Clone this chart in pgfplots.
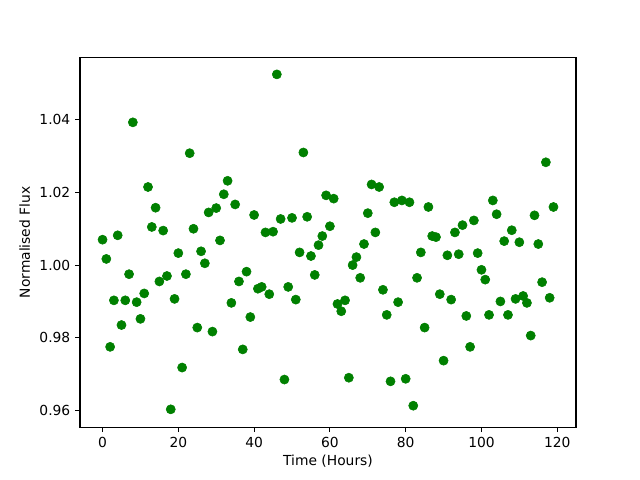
\documentclass[border=0pt]{standalone}
\usepackage{pgfplots}
\pgfplotsset{compat=1.18}
\usepackage{fontspec}
\setmainfont{DejaVu Sans}
\definecolor{mplgreen}{HTML}{008000}
\begin{document}
\begin{tikzpicture}
\path[fill=white] (0,0) rectangle (6.4in,4.8in);
\begin{axis}[
  at={(0.8in,0.528in)}, anchor=south west,
  width=4.96in, height=3.696in, scale only axis,
  xmin=-5.95, xmax=124.95, ymin=0.95538, ymax=1.05712,
  xtick={0,20,40,60,80,100,120},
  ytick={0.96,0.98,1.00,1.02,1.04},
  yticklabel style={/pgf/number format/.cd, fixed, fixed zerofill, precision=2},
  /pgf/number format/assume math mode=true,
  xtick pos=bottom, ytick pos=left,
  tick align=outside, major tick length=3.5pt,
  every tick/.style={line width=0.8pt, black},
  axis line style={line width=0.8pt},
  xticklabel style={yshift=-0.5pt},
  xlabel={Time (Hours)}, ylabel={Normalised Flux},
  xlabel style={yshift=2pt},
  ylabel style={yshift=0pt},
  font=\fontsize{10}{12}\selectfont,
  ticklabel style={font=\fontsize{10}{12}\selectfont},
]
\addplot[only marks, mark=*, mark size=3.3pt, mark options={fill=mplgreen, draw=mplgreen}] coordinates {
(0,1.0070) (1,1.0017) (2,0.9775) (3,0.9903) (4,1.0082) (5,0.9835) (6,0.9903) (7,0.9975)
(8,1.0393) (9,0.9898) (10,0.9852) (11,0.9922) (12,1.0215) (13,1.0105) (14,1.0158) (15,0.9955)
(16,1.0095) (17,0.9970) (18,0.9603) (19,0.9907) (20,1.0033) (21,0.9718) (22,0.9975) (23,1.0308)
(24,1.0100) (25,0.9828) (26,1.0038) (27,1.0005) (28,1.0145) (29,0.9817) (30,1.0157) (31,1.0068)
(32,1.0195) (33,1.0232) (34,0.9896) (35,1.0167) (36,0.9955) (37,0.9768) (38,0.9982) (39,0.9857)
(40,1.0138) (41,0.9935) (42,0.9940) (43,1.0090) (44,0.9920) (45,1.0092) (46,1.0525) (47,1.0127)
(48,0.9685) (49,0.9940) (50,1.0130) (51,0.9905) (52,1.0035) (53,1.0310) (54,1.0133) (55,1.0025)
(56,0.9973) (57,1.0055) (58,1.0080) (59,1.0192) (60,1.0107) (61,1.0183) (62,0.9893) (63,0.9873)
(64,0.9903) (65,0.9690) (66,1.0000) (67,1.0022) (68,0.9965) (69,1.0058) (70,1.0143) (71,1.0222)
(72,1.0090) (73,1.0215) (74,0.9932) (75,0.9863) (76,0.9680) (77,1.0173) (78,0.9898) (79,1.0178)
(80,0.9687) (81,1.0173) (82,0.9613) (83,0.9965) (84,1.0035) (85,0.9828) (86,1.0160) (87,1.0080)
(88,1.0077) (89,0.9920) (90,0.9737) (91,1.0027) (92,0.9905) (93,1.0090) (94,1.0030) (95,1.0110)
(96,0.9860) (97,0.9775) (98,1.0123) (99,1.0033) (100,0.9987) (101,0.9960) (102,0.9863) (103,1.0178)
(104,1.0140) (105,0.9900) (106,1.0066) (107,0.9863) (108,1.0096) (109,0.9907) (110,1.0063) (111,0.9915)
(112,0.9896) (113,0.9806) (114,1.0137) (115,1.0058) (116,0.9953) (117,1.0283) (118,0.9910) (119,1.0160)
};
\end{axis}
\end{tikzpicture}
\end{document}
